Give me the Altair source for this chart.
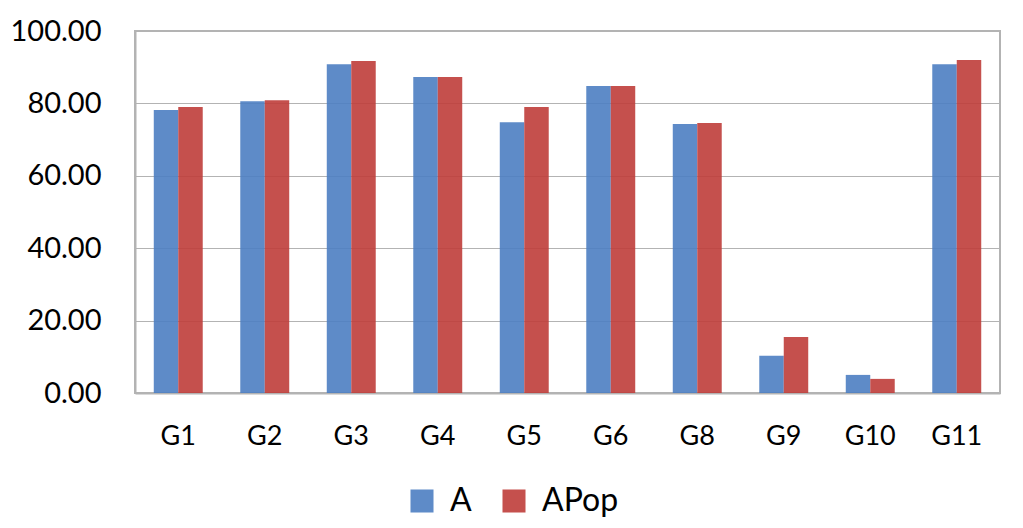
import altair as alt
import pandas as pd

groups = ["G1", "G2", "G3", "G4", "G5", "G6", "G8", "G9", "G10", "G11"]
a_vals = [78.2, 80.6, 90.8, 87.3, 74.8, 84.8, 74.3, 10.3, 5.0, 90.8]
apop_vals = [79.0, 80.9, 91.7, 87.3, 79.0, 84.8, 74.6, 15.5, 3.9, 92.0]
series = ["A", "APop"]
colors = ["#4C7EC2", "#BF3D3A"]

rows = []
for g, a, p in zip(groups, a_vals, apop_vals):
    rows.append({"group": g, "series": "A", "value": a})
    rows.append({"group": g, "series": "APop", "value": p})
df = pd.DataFrame(rows)

FONT = "Lato"

chart = (
    alt.Chart(df)
    .mark_bar(opacity=0.9)
    .encode(
        x=alt.X(
            "group:N",
            sort=groups,
            title=None,
            scale=alt.Scale(paddingInner=0.434, paddingOuter=0.217),
            axis=alt.Axis(
                labelAngle=0,
                labelFontSize=27,
                labelFont=FONT,
                labelColor="#000000",
                labelPadding=30,
                ticks=False,
                domainColor="#B3B3B3",
                domainWidth=2,
                grid=False,
            ),
        ),
        xOffset=alt.XOffset("series:N", sort=series),
        y=alt.Y(
            "value:Q",
            title=None,
            scale=alt.Scale(domain=[0, 100], nice=False),
            axis=alt.Axis(
                values=[0, 20, 40, 60, 80, 100],
                format=".2f",
                labelFontSize=29,
                labelFont=FONT,
                labelColor="#000000",
                labelPadding=34,
                ticks=False,
                domainColor="#B3B3B3",
                domainWidth=2,
                gridColor="#B3B3B3",
                gridWidth=1,
            ),
        ),
        color=alt.Color(
            "series:N",
            sort=series,
            scale=alt.Scale(domain=series, range=colors),
            legend=alt.Legend(
                title=None,
                orient="none",
                direction="horizontal",
                legendX=271,
                legendY=454,
                symbolType="square",
                symbolSize=530,
                symbolOpacity=0.9,
                symbolStrokeWidth=0,
                labelFontSize=32,
                labelFont=FONT,
                labelColor="#000000",
                labelOffset=12,
                columnPadding=26,
                labelLimit=300,
            ),
        ),
    )
    .properties(
        width=865,
        height=362,
        autosize=alt.AutoSizeParams(type="none"),
        padding={"left": 127, "top": 23, "right": 15, "bottom": 127},
    )
    .configure_view(stroke="#B3B3B3", strokeWidth=2)
)

chart.save("out.html", embed_options={"renderer": "svg", "actions": False})
